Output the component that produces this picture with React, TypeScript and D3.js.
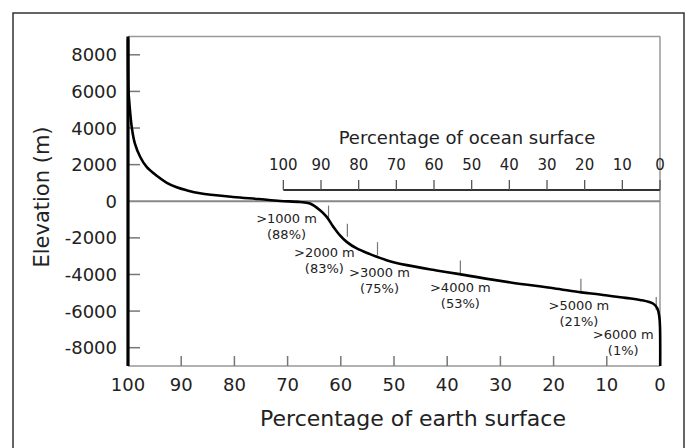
import React from "react";
import * as d3 from "d3";

// Hypsometric curve: [percentage of earth surface, elevation (m)]
const earthPct = [100, 99.9, 99.76, 99.3, 98.7, 97.7, 96.5, 94.6, 92.7, 90.85, 88.97, 86.47, 80.26, 75.5, 71.4, 67.7, 65.8, 63.9, 62.65, 61.4, 60.2, 58.9, 57.0, 54.5, 51.4, 47.6, 42.0, 37.7, 28.1, 20.0, 14.8, 11.3, 6.5, 3.76, 1.25, 0.5, 0.13, 0.0, 0.0];
const elevation = [8848, 6000, 5420, 4055, 3145, 2418, 1873, 1391, 1009, 764, 600, 436, 234, 120, 16, -38, -127, -491, -856, -1400, -1855, -2220, -2580, -2890, -3218, -3490, -3780, -3982, -4435, -4750, -4980, -5090, -5280, -5390, -5600, -5855, -6310, -6855, -11000];

const yTicks = [8000, 6000, 4000, 2000, 0, -2000, -4000, -6000, -8000];
const xTicks = [100, 90, 80, 70, 60, 50, 40, 30, 20, 10, 0];
const oceanTicks = [100, 90, 80, 70, 60, 50, 40, 30, 20, 10, 0];
const oceanShare = 70.8; // ocean share of earth surface (%)

const depthLabels = [">1000 m", ">2000 m", ">3000 m", ">4000 m", ">5000 m", ">6000 m"];
const depthValues = [1000, 2000, 3000, 4000, 5000, 6000];
const depthOceanPct = [88, 83, 75, 53, 21, 1];
// label placement offsets (pixels), layout only
const labelDx = [-42, -23, 2, 0, -2, -33];
const labelDy = [3, 19, 21, 18, 17, 28];

const W = 688;
const H = 448;
const L = 128, R = 660, T = 36.5, B = 366;

export default function App() {
  const x = d3.scaleLinear().domain([100, 0]).range([L, R]);
  const y = d3.scaleLinear().domain([-9000, 9000]).range([B, T]);
  const ox = d3.scaleLinear().domain([100, 0]).range([x(oceanShare), x(0)]);
  const pts: [number, number][] = earthPct.map((p, i) => [p, elevation[i]]);
  const line = d3
    .line<[number, number]>()
    .x((d) => x(d[0]))
    .y((d) => y(d[1]))
    .curve(d3.curveCatmullRom.alpha(0.5));
  const font = "DejaVu Sans, Verdana, sans-serif";
  const oceanY = 190;
  return (
    <svg width={W} height={H} style={{ position: "absolute", left: 0, top: 0, background: "#fff" }} fontFamily={font}>
      <rect x={0} y={0} width={W} height={H} fill="#fff" />
      <rect x={13} y={13} width={671} height={460} fill="none" stroke="#333" strokeWidth={1.5} />
      <defs>
        <clipPath id="plotclip">
          <rect x={L - 3} y={T} width={R - L + 6} height={B - T} />
        </clipPath>
      </defs>
      {/* frame */}
      <line x1={L} x2={R} y1={T} y2={T} stroke="#999" strokeWidth={1.5} />
      <line x1={R} x2={R} y1={T} y2={B} stroke="#999" strokeWidth={1.5} />
      <line x1={L} x2={R} y1={B} y2={B} stroke="#999" strokeWidth={1.5} />
      {/* zero line */}
      <line x1={L} x2={R} y1={y(0)} y2={y(0)} stroke="#888" strokeWidth={2.2} />
      {/* left ticks */}
      {yTicks.filter((t) => t !== 0).map((t) => (
        <line key={"yt" + t} x1={L} x2={L + 12} y1={y(t)} y2={y(t)} stroke="#777" strokeWidth={1.5} />
      ))}
      {yTicks.map((t) => (
        <text key={"yl" + t} x={117} y={y(t)} dy="0.36em" textAnchor="end" fontSize={18} fill="#222">
          {t}
        </text>
      ))}
      {/* bottom ticks */}
      {xTicks.filter((t) => t !== 100 && t !== 0).map((t) => (
        <line key={"xt" + t} x1={x(t)} x2={x(t)} y1={B} y2={B - 10} stroke="#777" strokeWidth={1.5} />
      ))}
      {xTicks.map((t) => (
        <text key={"xl" + t} x={x(t)} y={391} textAnchor="middle" fontSize={18} fill="#222">
          {t}
        </text>
      ))}
      {/* ocean axis */}
      <line x1={ox(100)} x2={ox(0)} y1={oceanY} y2={oceanY} stroke="#333" strokeWidth={2} />
      {oceanTicks.map((t) => (
        <line key={"ot" + t} x1={ox(t)} x2={ox(t)} y1={oceanY} y2={oceanY - 10} stroke="#555" strokeWidth={1.3} />
      ))}
      {oceanTicks.map((t) => (
        <text key={"ol" + t} x={ox(t)} y={170} textAnchor="middle" fontSize={15} fill="#222">
          {t}
        </text>
      ))}
      <text x={467} y={144} textAnchor="middle" fontSize={18} fill="#222">
        Percentage of ocean surface
      </text>
      {/* depth markers */}
      {depthValues.map((dv, i) => {
        const tx = ox(depthOceanPct[i]);
        const ty = y(-dv);
        return (
          <g key={"dm" + dv}>
            <line x1={tx} x2={tx} y1={ty - 14} y2={ty - 1} stroke="#777" strokeWidth={1.2} />
            <text x={tx + labelDx[i]} y={ty + labelDy[i]} textAnchor="middle" fontSize={13} fill="#222">
              {depthLabels[i]}
            </text>
            <text x={tx + labelDx[i]} y={ty + labelDy[i] + 16} textAnchor="middle" fontSize={13} fill="#222">
              {"(" + depthOceanPct[i] + "%)"}
            </text>
          </g>
        );
      })}
      {/* curve */}
      <path d={line(pts) || ""} fill="none" stroke="#000" strokeWidth={2.6} clipPath="url(#plotclip)" />
      {/* left axis */}
      <line x1={L} x2={L} y1={T} y2={B} stroke="#000" strokeWidth={3.2} />
      {/* axis titles */}
      <text x={413} y={426} textAnchor="middle" fontSize={22} fill="#222">
        Percentage of earth surface
      </text>
      <text transform={`translate(49,197) rotate(-90)`} textAnchor="middle" fontSize={21} fill="#222">
        Elevation (m)
      </text>
    </svg>
  );
}
